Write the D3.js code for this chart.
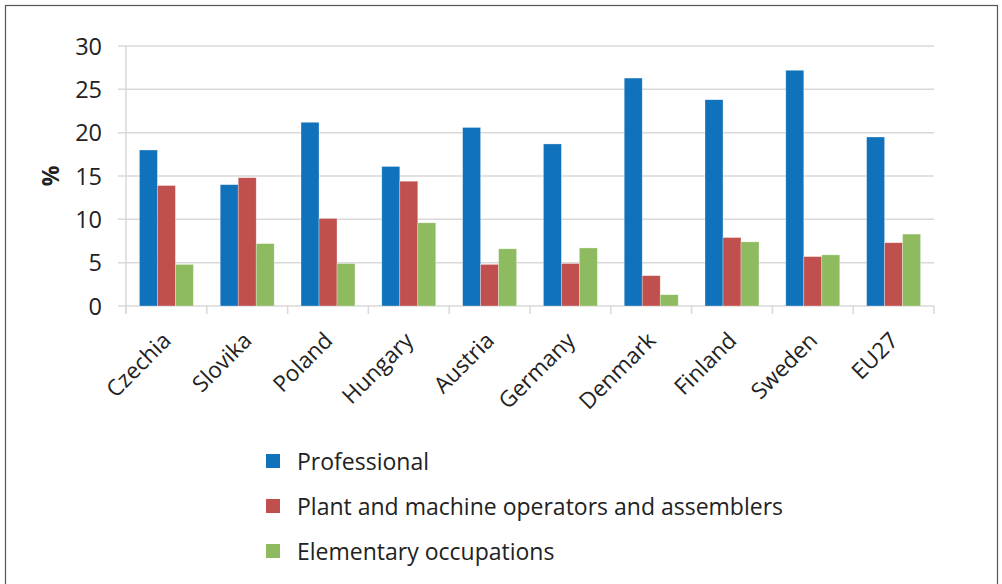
<!DOCTYPE html>
<html><head><meta charset="utf-8">
<script src="https://cdn.jsdelivr.net/npm/d3@7"></script>
<style>body{margin:0;background:#fff}svg{display:block}text{font-family:"Open Sans",sans-serif;fill:#222}</style>
</head><body><svg id="c" width="1002" height="584"></svg>
<script>
const categories = ["Czechia","Slovika","Poland","Hungary","Austria","Germany","Denmark","Finland","Sweden","EU27"];
const seriesNames = ["Professional","Plant and machine operators and assemblers","Elementary occupations"];
const professional = [18.0,14.0,21.2,16.1,20.6,18.7,26.3,23.8,27.2,19.5];
const plantOperators = [13.9,14.8,10.1,14.4,4.8,4.9,3.5,7.9,5.7,7.3];
const elementary = [4.8,7.2,4.9,9.6,6.6,6.7,1.3,7.4,5.9,8.3];
const yTicks = [0,5,10,15,20,25,30];
const colors = ["#1072BA","#C0504D","#8FBB60"];
const series = [professional, plantOperators, elementary];

const svg = d3.select("#c");
svg.append("rect").attr("x",5.5).attr("y",5.5).attr("width",992).attr("height",600)
  .attr("fill","none").attr("stroke","#555").attr("stroke-width",1.2);

const L=126,R=934,T=46,B=306;
const y = d3.scaleLinear().domain([0,30]).range([B,T]);
const x = d3.scaleBand().domain(categories).range([L,R]).paddingInner(0.332).paddingOuter(0.166);
const xs = d3.scaleBand().domain(d3.range(3)).range([0,x.bandwidth()]);

const g = svg.append("g");
g.selectAll("line.grid").data(yTicks).join("line")
  .attr("x1",L-8).attr("x2",R).attr("y1",d=>y(d)).attr("y2",d=>y(d))
  .attr("stroke","#d9d9d9").attr("stroke-width",1.5);
g.append("line").attr("x1",L).attr("x2",L).attr("y1",T).attr("y2",B+8).attr("stroke","#d9d9d9").attr("stroke-width",1.5);
const step = x.step();
g.selectAll("line.xt").data(d3.range(categories.length+1)).join("line")
  .attr("x1",i=>L+i*step).attr("x2",i=>L+i*step).attr("y1",B).attr("y2",B+8)
  .attr("stroke","#d9d9d9").attr("stroke-width",1.5);

series.forEach((vals,si)=>{
  svg.append("g").selectAll("rect").data(vals).join("rect")
    .attr("x",(d,i)=>x(categories[i])+xs(si))
    .attr("width",xs.bandwidth())
    .attr("y",d=>y(d)).attr("height",d=>y(0)-y(d))
    .attr("fill",colors[si]).attr("stroke","rgba(255,255,255,0.5)").attr("stroke-width",0.6);
});

svg.append("g").selectAll("text").data(yTicks).join("text")
  .attr("x",102).attr("y",d=>y(d)+8.5).attr("text-anchor","end").attr("font-size",23.5).text(d=>d);
svg.append("text").attr("transform","translate(59,176) rotate(-90)").attr("text-anchor","middle")
  .attr("font-size",23).attr("font-weight","bold").text("%");

svg.append("g").selectAll("text").data(categories).join("text")
  .attr("transform",d=>`translate(${x(d)+x.bandwidth()/2+6},${B+36}) rotate(-45)`)
  .attr("text-anchor","end").attr("font-size",22.5).text(d=>d);

const lg = svg.append("g");
seriesNames.forEach((n,i)=>{
  const yy = 454 + i*45;
  lg.append("rect").attr("x",266).attr("y",yy).attr("width",14).attr("height",14).attr("fill",colors[i]);
  lg.append("text").attr("x",297).attr("y",yy+16).attr("font-size",23).text(n);
});
</script></body></html>
